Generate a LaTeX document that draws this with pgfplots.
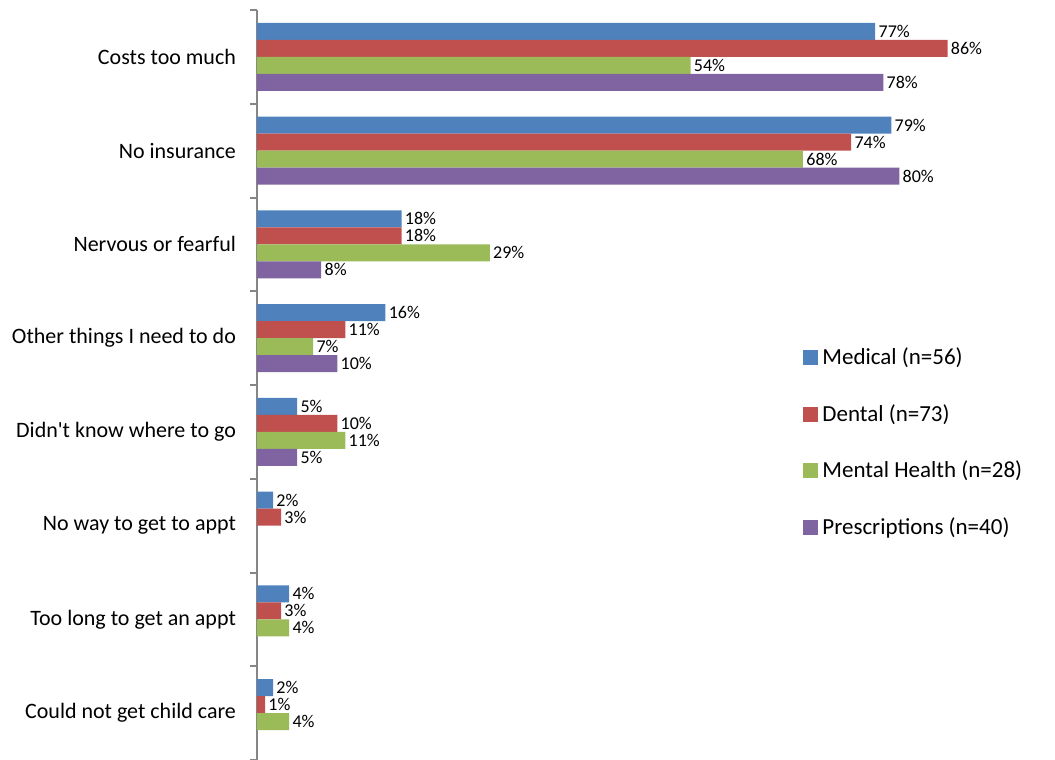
\documentclass[border=0pt]{standalone}
\usepackage{pgfplots}
\pgfplotsset{compat=1.18}
\usepackage{fontspec}
\setmainfont{Carlito}[Ligatures=TeXOff]
\definecolor{cMed}{HTML}{4F81BD}
\definecolor{cDen}{HTML}{C0504D}
\definecolor{cMen}{HTML}{9BBB59}
\definecolor{cPre}{HTML}{8064A2}
\definecolor{cAx}{HTML}{868686}
\begin{document}
\begin{tikzpicture}
\begin{axis}[
  xbar=0pt, bar width=8.5pt,
  scale only axis, width=381.4pt, height=375pt,
  xmin=0, xmax=95,
  ymin=-0.5, ymax=7.5, y dir=reverse,
  axis x line=none, axis y line*=left,
  ytick={0,...,7},
  yticklabels={Costs too much, No insurance, Nervous or fearful, Other things I need to do, Didn't know where to go, No way to get to appt, Too long to get an appt, Could not get child care},
  major tick length=0pt,
  minor ytick={-0.5,0.5,...,7.5}, minor tick length=3.5pt, tick align=outside,
  y axis line style={draw=cAx, line width=1pt},
  every minor tick/.style={draw=cAx, line width=1pt},
  yticklabel style={font=\fontsize{11}{13}\selectfont, xshift=-7pt},
  nodes near coords={\pgfmathprintnumber[assume math mode=true]{\pgfplotspointmeta}\%},
  every node near coord/.append style={font=\fontsize{9}{10}\selectfont, anchor=west, inner sep=1.5pt, black},
  legend style={draw=none, at={(axis description cs:0.708,0.561)}, anchor=north west, row sep=14.4pt, font=\fontsize{11.5}{13}\selectfont},
  legend cell align=left,
  legend image code/.code={\fill[#1] (0pt,-3.75pt) rectangle (7.5pt,3.75pt);},
]
\addplot[fill=cMed, draw=none, bar shift=12.75pt] coordinates {(77,0) (79,1) (18,2) (16,3) (5,4) (2,5) (4,6) (2,7)};
\addlegendentry{Medical (n=56)}
\addplot[fill=cDen, draw=none, bar shift=4.25pt] coordinates {(86,0) (74,1) (18,2) (11,3) (10,4) (3,5) (3,6) (1,7)};
\addlegendentry{Dental (n=73)}
\addplot[fill=cMen, draw=none, bar shift=-4.25pt] coordinates {(54,0) (68,1) (29,2) (7,3) (11,4) (4,6) (4,7)};
\addlegendentry{Mental Health (n=28)}
\addplot[fill=cPre, draw=none, bar shift=-12.75pt] coordinates {(78,0) (80,1) (8,2) (10,3) (5,4)};
\addlegendentry{Prescriptions (n=40)}
\end{axis}
\pgfresetboundingbox
\path[use as bounding box] (-128.5pt,0pt) rectangle (399pt,380pt);
\end{tikzpicture}
\end{document}
